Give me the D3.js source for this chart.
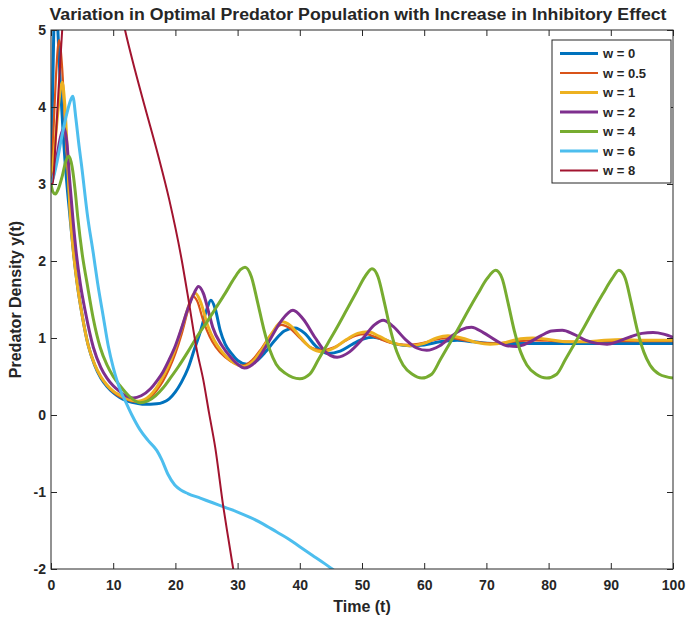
<!DOCTYPE html>
<html><head><meta charset="utf-8">
<script src="https://cdn.jsdelivr.net/npm/d3@7"></script>
<style>
body{margin:0;background:#fff}
svg{display:block}
text{font-family:"Liberation Sans",Arial,Helvetica,sans-serif;font-weight:bold;fill:#262626}
</style>
</head><body>
<svg id="c" width="687" height="619"></svg>
<script>
// ---- data: [time, predator density] ----
const w0=[[0,3.0],[0.2,3.9],[0.45,5.0],[0.7,5.5],[0.9,5.3],[1.1,5.0],[1.5,4.3],[2,3.6],[2.5,3.05],[3,2.62],[3.5,2.2],[4.2,1.71],[5,1.3],[6,0.9],[7,0.65],[8,0.48],[9,0.37],[10,0.29],[11,0.23],[12,0.19],[13,0.165],[14,0.15],[15,0.14],[16,0.14],[17,0.145],[18,0.165],[19,0.21],[20,0.3],[21,0.43],[22,0.6],[23,0.84],[24,1.08],[25,1.36],[25.7,1.49],[26.4,1.38],[27.2,1.1],[28,0.92],[29,0.8],[30,0.71],[31.5,0.66],[33,0.7],[34.5,0.82],[36,0.97],[37.5,1.09],[39.2,1.13],[40.8,1.06],[42.5,0.9],[44.5,0.8],[46.5,0.83],[48.5,0.92],[50.3,0.99],[51.8,1.01],[53.5,0.98],[55.5,0.92],[57.7,0.9],[60,0.91],[62.5,0.95],[65.3,0.97],[68,0.95],[71,0.93],[75,0.93],[80,0.93],[85,0.93],[90,0.93],[95,0.93],[100,0.93]];
const w05=[[0,3.0],[0.4,3.7],[0.8,4.4],[1.3,4.87],[1.8,4.5],[2.3,3.7],[2.8,3.0],[3.1,2.62],[3.6,2.12],[4.2,1.71],[5,1.3],[6,0.9],[7,0.66],[8,0.49],[9,0.38],[10,0.3],[11,0.24],[12,0.21],[13,0.18],[14,0.17],[15,0.18],[16,0.23],[17,0.32],[18,0.44],[19,0.6],[20,0.8],[21,1.05],[22,1.35],[22.8,1.54],[23.5,1.48],[24.5,1.22],[25.5,1.02],[26.5,0.88],[28,0.75],[29.5,0.67],[30.8,0.64],[32.3,0.71],[33.8,0.86],[35.3,1.04],[37,1.17],[38.5,1.12],[40,1.0],[41.7,0.88],[43.5,0.84],[45.5,0.88],[47.5,0.97],[49,1.03],[50.6,1.05],[52.5,1.0],[54.5,0.94],[57.3,0.91],[60,0.94],[62,0.98],[64,1.0],[66.5,0.97],[69,0.94],[71,0.93],[74,0.95],[77.5,0.97],[81,0.96],[85,0.95],[90,0.96],[95,0.96],[100,0.96]];
const w1=[[0,3.0],[0.5,3.4],[1,3.85],[1.5,4.22],[1.8,4.32],[2.2,4.05],[2.6,3.45],[3.1,2.6],[3.6,2.12],[4.2,1.71],[5,1.3],[6,0.9],[7,0.66],[8,0.5],[9,0.39],[10,0.31],[11,0.26],[12,0.22],[13,0.19],[14,0.18],[15,0.2],[16,0.26],[17,0.36],[18,0.5],[19,0.66],[20,0.87],[21,1.12],[22,1.38],[22.6,1.52],[23.2,1.58],[24,1.48],[25.2,1.16],[26.3,0.96],[27.5,0.82],[29,0.7],[31,0.63],[32.5,0.7],[34,0.86],[35.5,1.06],[37.1,1.21],[38.5,1.16],[40,1.02],[41.8,0.87],[43.6,0.82],[45.5,0.87],[47.5,0.98],[49.3,1.06],[51,1.08],[52.8,1.02],[54.8,0.94],[57.7,0.9],[60,0.93],[62,1.0],[63.8,1.03],[66,1.0],[68.5,0.94],[70.6,0.92],[73,0.94],[75.5,0.99],[77.5,1.0],[80,0.98],[83,0.95],[86,0.95],[89,0.97],[92,0.98],[95,0.97],[100,0.97]];
const w2=[[0,3.0],[0.5,3.15],[1,3.38],[1.5,3.6],[2.1,3.73],[2.6,3.5],[3,3.05],[3.5,2.57],[4,2.15],[4.7,1.71],[5.5,1.35],[6.8,0.88],[8,0.62],[9,0.48],[10,0.38],[11,0.31],[12,0.25],[13.2,0.22],[14.5,0.25],[16,0.34],[17,0.44],[18,0.56],[19,0.72],[20,0.9],[21,1.13],[22,1.38],[23,1.58],[23.7,1.67],[24.5,1.58],[25.3,1.35],[26,1.14],[27.5,0.9],[28.8,0.76],[30,0.66],[31.1,0.61],[33,0.7],[35,0.95],[37,1.22],[38.9,1.36],[40.5,1.25],[42.5,1.0],[44,0.83],[46,0.75],[48,0.82],[50,0.98],[52,1.17],[53.4,1.23],[55,1.15],[57,0.98],[58.8,0.87],[60.4,0.84],[62.5,0.9],[64.5,1.03],[66,1.11],[67.6,1.14],[69.5,1.07],[71.5,0.97],[73.3,0.9],[74.9,0.89],[76.8,0.94],[78.8,1.03],[80.5,1.09],[82.2,1.1],[84,1.05],[86,0.97],[87.8,0.93],[89.4,0.92],[91.3,0.96],[93.3,1.02],[95,1.06],[96.8,1.07],[98.5,1.05],[100,1.01]];
const w4=[[0,3.0],[0.3,2.9],[0.7,2.87],[1.2,2.94],[1.8,3.1],[2.4,3.3],[2.9,3.36],[3.4,3.22],[3.9,2.9],[4.3,2.57],[5,2.1],[5.8,1.71],[6.8,1.25],[7.9,0.88],[9,0.65],[10,0.5],[11.1,0.38],[12.5,0.25],[14.3,0.16],[15.5,0.18],[16.8,0.25],[18,0.35],[19.1,0.47],[20.5,0.63],[22,0.82],[23.5,1.02],[25,1.2],[26.5,1.39],[28,1.58],[29.5,1.78],[30.5,1.89],[31.2,1.92],[32.2,1.8],[33.2,1.47],[34.2,1.12],[35.2,0.84],[36.2,0.66],[37.7,0.54],[40,0.47],[41.6,0.53],[43,0.72],[44.5,0.93],[46,1.14],[47.5,1.36],[49,1.58],[50.5,1.8],[51.6,1.9],[52.6,1.79],[53.6,1.46],[54.6,1.1],[55.6,0.82],[56.6,0.65],[58.1,0.53],[59.6,0.48],[61.2,0.53],[62.6,0.72],[64.1,0.93],[65.6,1.14],[67.1,1.36],[68.6,1.57],[70.1,1.77],[71.5,1.88],[72.5,1.78],[73.5,1.45],[74.5,1.09],[75.5,0.82],[76.5,0.65],[78,0.53],[79.7,0.48],[81.3,0.53],[82.7,0.72],[84.2,0.93],[85.7,1.14],[87.2,1.36],[88.7,1.57],[90.2,1.77],[91.3,1.88],[92.3,1.78],[93.3,1.45],[94.3,1.09],[95.3,0.82],[96.3,0.65],[97.8,0.53],[100,0.48]];
const w6=[[0,3.0],[0.5,3.12],[1,3.3],[1.7,3.6],[2.5,3.9],[3.2,4.1],[3.5,4.14],[4,3.85],[4.5,3.5],[4.9,3.25],[5.9,2.57],[6.8,2.1],[7.5,1.71],[8.4,1.28],[9.2,0.9],[10,0.62],[10.6,0.45],[11.2,0.31],[11.9,0.19],[13,0],[14.3,-0.19],[15.6,-0.33],[17,-0.46],[17.8,-0.58],[18.8,-0.77],[19.9,-0.91],[21,-0.98],[22,-1.02],[24,-1.08],[26,-1.14],[28,-1.2],[30,-1.26],[32,-1.33],[34,-1.41],[36.3,-1.52],[38,-1.6],[40,-1.71],[42,-1.82],[44,-1.93],[45.2,-2.0],[46,-2.05]];
const w8=[[0,3.0],[0.3,3.0],[0.7,3.5],[1.2,4.2],[1.8,5.0],[2.5,5.7],[4,6.4],[6,6.7],[8,6.5],[10,5.75],[11.9,5.0],[13.5,4.48],[15.1,4.0],[17.2,3.38],[19,2.8],[21,2.02],[22.2,1.45],[23.4,0.86],[24.5,0.45],[25.4,0.03],[26.4,-0.42],[27.7,-1.19],[28.5,-1.6],[29.3,-2.0],[30,-2.35]];

const seriesData=[w0,w05,w1,w2,w4,w6,w8];
const seriesLabels=["w = 0","w = 0.5","w = 1","w = 2","w = 4","w = 6","w = 8"];
const xTicks=[0,10,20,30,40,50,60,70,80,90,100];
const yTicks=[-2,-1,0,1,2,3,4,5];

// ---- styles ----
const colors=["#0072BD","#D95319","#EDB120","#7E2F8E","#77AC30","#4DBEEE","#A2142F"];
const widths=[3,2.2,3,3,3,3,2];

const svg=d3.select("#c");
const L=51,R=673,T=30,B=569;
const x=d3.scaleLinear().domain([0,100]).range([L,R]);
const y=d3.scaleLinear().domain([-2,5]).range([B,T]);

svg.append("defs").append("clipPath").attr("id","clip")
  .append("rect").attr("x",L).attr("y",T).attr("width",R-L).attr("height",B-T);

const line=d3.line().x(d=>x(d[0])).y(d=>y(d[1])).curve(d3.curveMonotoneX);
const g=svg.append("g").attr("clip-path","url(#clip)");
seriesData.forEach((s,i)=>{
  g.append("path").attr("d",line(s)).attr("fill","none")
   .attr("stroke",colors[i]).attr("stroke-width",widths[i]).attr("stroke-linejoin","round");
});

const axColor="#262626";
const fmt=d=>String(d);
function style(sel){sel.select(".domain").remove();sel.selectAll(".tick line").attr("stroke",axColor);
  sel.selectAll("text").attr("fill",axColor).style("font-size","14px").style("font-weight","bold").style("font-family",'"Liberation Sans",Arial,sans-serif');}
svg.append("g").attr("transform",`translate(0,${B})`)
  .call(d3.axisBottom(x).tickValues(xTicks).tickFormat(fmt).tickSize(-6).tickPadding(11)).call(style);
svg.append("g").attr("transform",`translate(0,${T})`)
  .call(d3.axisTop(x).tickValues(xTicks).tickSize(-6).tickFormat("")).call(style);
svg.append("g").attr("transform",`translate(${L},0)`)
  .call(d3.axisLeft(y).tickValues(yTicks).tickFormat(fmt).tickSize(-6).tickPadding(5)).call(style);
svg.append("g").attr("transform",`translate(${R},0)`)
  .call(d3.axisRight(y).tickValues(yTicks).tickSize(-6).tickFormat("")).call(style);
svg.append("rect").attr("x",L).attr("y",T).attr("width",R-L).attr("height",B-T)
  .attr("fill","none").attr("stroke",axColor).attr("stroke-width",1);

// title and labels
svg.append("text").attr("x",358).attr("y",20).attr("text-anchor","middle")
  .style("font-size","16px").attr("textLength",617).attr("lengthAdjust","spacingAndGlyphs")
  .text("Variation in Optimal Predator Population with Increase in Inhibitory Effect");
svg.append("text").attr("x",(L+R)/2).attr("y",612).attr("text-anchor","middle")
  .style("font-size","16px").text("Time (t)");
svg.append("text").attr("transform",`translate(21,${(T+B)/2}) rotate(-90)`).attr("text-anchor","middle")
  .style("font-size","16px").text("Predator Density y(t)");

// legend
const lg=svg.append("g");
lg.append("rect").attr("x",552).attr("y",40).attr("width",119).attr("height",143)
  .attr("fill","#fff").attr("stroke",axColor).attr("stroke-width",1);
seriesLabels.forEach((lab,i)=>{
  const yy=53.5+i*19.5;
  lg.append("line").attr("x1",560).attr("x2",598).attr("y1",yy).attr("y2",yy)
    .attr("stroke",colors[i]).attr("stroke-width",widths[i]);
  lg.append("text").attr("x",603).attr("y",yy+4.5).style("font-size","13px").text(lab);
});
</script>
</body></html>
